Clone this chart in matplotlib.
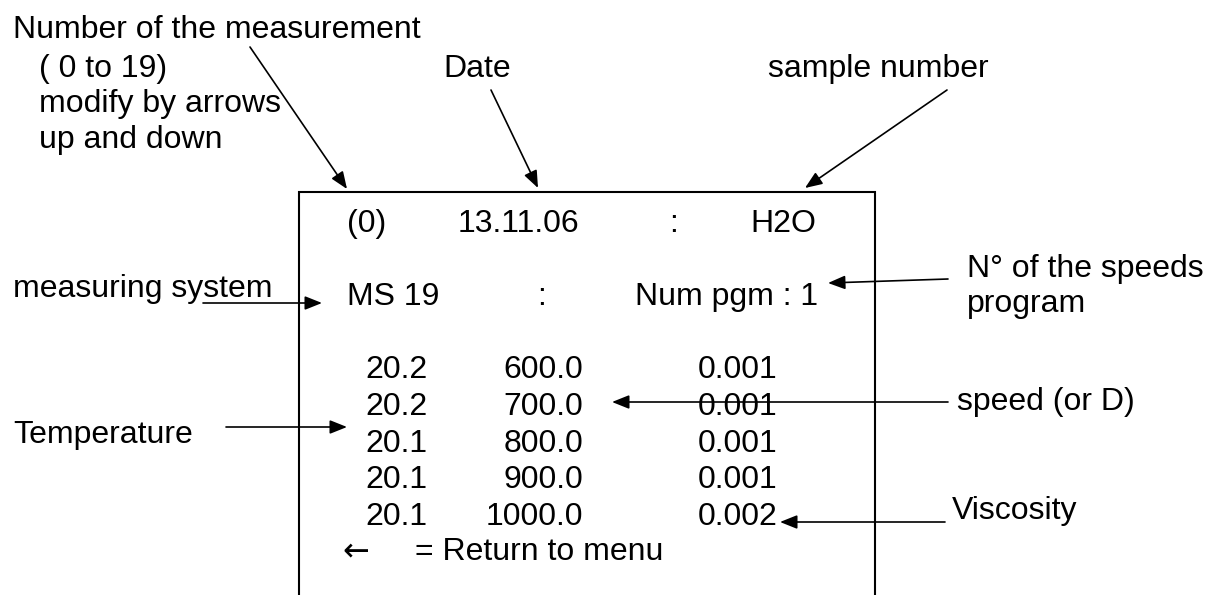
import matplotlib.pyplot as plt

plt.rcParams['font.family'] = ['Liberation Sans', 'DejaVu Sans']

# screen contents
header = ["(0)", "13.11.06", ":", "H2O"]
system_row = ["MS 19", ":", "Num pgm : 1"]
temperature = ["20.2", "20.2", "20.1", "20.1", "20.1"]
speed = ["600.0", "700.0", "800.0", "900.0", "1000.0"]
viscosity = ["0.001", "0.001", "0.001", "0.001", "0.002"]

fig = plt.figure(figsize=(12.08, 5.95), dpi=100)
ax = fig.add_axes([0, 0, 1, 1])
ax.set_xlim(0, 1208)
ax.set_ylim(595, 0)
ax.axis('off')

fs = 23


def txt(x, y, s, ha='left'):
    ax.text(x, y, s, fontsize=fs, ha=ha, va='baseline', color='black')


def arrow(x0, y0, x1, y1):
    ax.annotate('', xy=(x1, y1), xytext=(x0, y0),
                arrowprops=dict(arrowstyle='-|>,head_length=0.8,head_width=0.32',
                                mutation_scale=13, lw=1.2, color='black',
                                shrinkA=0, shrinkB=0))


# display frame (open at the bottom)
ax.plot([299, 299, 875, 875], [600, 192, 192, 600], color='black', lw=1.5,
        solid_joinstyle='miter')

# header row
txt(347, 232, header[0])
txt(458, 232, header[1])
txt(674, 232, header[2], ha='center')
txt(750, 232, header[3])

# measuring system row
txt(347, 305, system_row[0])
txt(541, 305, system_row[1], ha='center')
txt(635, 305, system_row[2])

# measurement rows
for i in range(len(temperature)):
    y = 378 + i * 36.8
    txt(365, y, temperature[i])
    txt(583, y, speed[i], ha='right')
    txt(698, y, viscosity[i])

ax.text(342, 560, "\u2190", fontsize=fs, ha='left', va='baseline',
        family=['DejaVu Sans'])
txt(415, 560, "= Return to menu")

# annotations
txt(13, 38, "Number of the measurement")
txt(39, 77, "( 0 to 19)")
txt(39, 112, "modify by arrows")
txt(39, 148, "up and down")
arrow(250, 47, 347, 189)

txt(443, 77, "Date")
arrow(491, 90, 538, 188)

txt(768, 77, "sample number")
arrow(947, 90, 805, 188)

txt(13, 297, "measuring system")
arrow(203, 303, 322, 303)

txt(967, 277, "N\u00b0 of the speeds")
txt(967, 312, "program")
arrow(948, 279, 828, 283)

txt(13, 443, "Temperature")
arrow(226, 427, 347, 427)

txt(957, 410, "speed (or D)")
arrow(948, 402, 612, 402)

txt(952, 519, "Viscosity")
arrow(945, 522, 780, 522)

fig.savefig("out.png", dpi=100)
